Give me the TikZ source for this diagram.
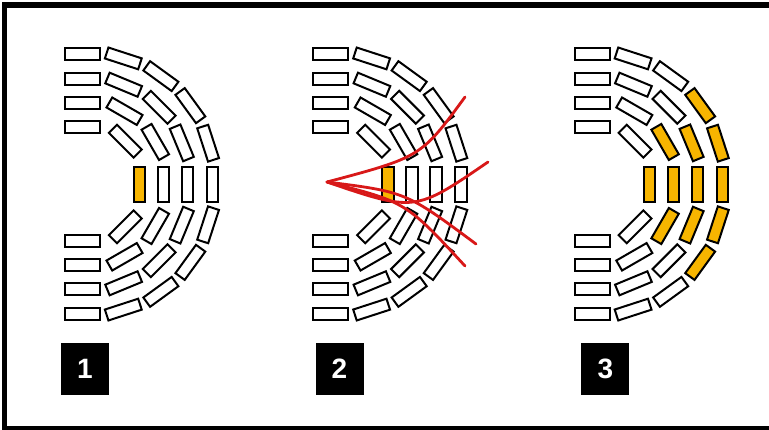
\documentclass[tikz,border=0pt]{standalone}
\usepackage{fontspec}
\setmainfont{Liberation Sans}
\definecolor{seat}{HTML}{F7B500}
\definecolor{ray}{HTML}{D81818}

% One hemicycle of seats: #1 name prefix, #2 centre x, #3 mode
% (mode 1: only the front middle seat is lit; mode 2: the whole central wedge is lit)
\newcommand{\hemicycle}[3]{%
  \foreach \rad/\cnt/\st [count=\ri] in {57/5/45,81/7/30,105/9/22.5,130/11/18} {
    \foreach \k in {1,...,\cnt} {
      \pgfmathsetmacro{\th}{90-(\k-1)*\st}
      \pgfmathsetmacro{\rr}{\rad+3.5*abs(sin(2*\th))}
      \pgfmathsetmacro{\px}{#2+\rr*cos(\th)}
      \pgfmathsetmacro{\py}{184-\rr*sin(\th)}
      \pgfmathtruncatemacro{\lit}{#3==1 ? ((\ri==1) && (abs(\th)<0.1)) : (abs(\th)<36.5)}
      \ifnum\lit=1 \def\fillc{seat}\else\def\fillc{white}\fi
      \node[seatbox, fill=\fillc, rotate=\th+90] (#1-\ri-\k) at (\px,\py) {};
    }
  }%
}

\begin{document}
\begin{tikzpicture}[x=1pt,y=-1pt,
  seatbox/.style={draw=black, line width=2pt, rectangle, minimum width=35pt,
    minimum height=11.5pt, inner sep=0pt, outer sep=0pt},
  tag/.style={fill=black, text=white, minimum width=48pt, minimum height=52pt,
    inner sep=0pt, font=\fontsize{28}{28}\selectfont\bfseries},
  rayline/.style={draw=ray, line width=2.8pt, line cap=round}]
\useasboundingbox (0,0) rectangle (769,429);

% outer frame
\begin{scope}
  \clip (0,0) rectangle (769,429);
  \draw[line width=5.5pt] (4.5,5) rectangle (800,428.5);
\end{scope}

% the three seating plans
\hemicycle{a}{82.5}{1}
\hemicycle{b}{330.8}{1}
\hemicycle{c}{592.3}{2}

% spreading lines from the speaker point in the middle plan
\coordinate (src) at (327,182);
\coordinate (ra) at (465,97);
\coordinate (rb) at (488,162);
\coordinate (rc) at (476,244);
\coordinate (rd) at (465,266);
\draw[rayline] (src) .. controls (421,157) .. (ra);
\draw[rayline] (src) .. controls (415,212) .. (rb);
\draw[rayline] (src) .. controls (406,192) .. (rc);
\draw[rayline] (src) .. controls (406,202) .. (rd);

% step numbers
\node[tag] (t1) at (85,369) {1};
\node[tag] (t2) at (339.5,369) {2};
\node[tag] (t3) at (605.3,369) {3};
\end{tikzpicture}
\end{document}
